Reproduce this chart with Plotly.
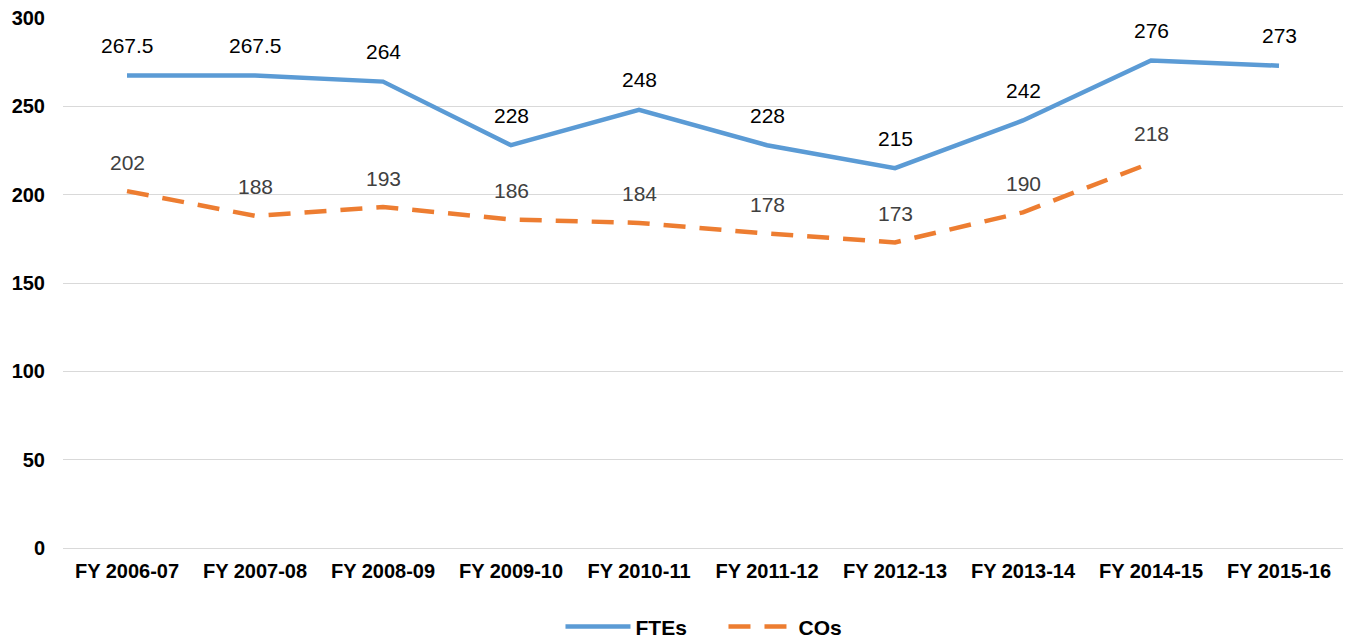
import plotly.graph_objects as go

categories = ["FY 2006-07", "FY 2007-08", "FY 2008-09", "FY 2009-10", "FY 2010-11",
              "FY 2011-12", "FY 2012-13", "FY 2013-14", "FY 2014-15", "FY 2015-16"]
ftes = [267.5, 267.5, 264, 228, 248, 228, 215, 242, 276, 273]
cos = [202, 188, 193, 186, 184, 178, 173, 190, 218, None]
y_ticks = [0, 50, 100, 150, 200, 250, 300]

FONT = "Liberation Sans, Arial, sans-serif"

fig = go.Figure()
fig.add_trace(go.Scatter(x=categories, y=ftes, mode="lines", name="FTEs",
                         line=dict(color="#5b9bd5", width=4.5)))
fig.add_trace(go.Scatter(x=categories, y=cos, mode="lines", name="COs",
                         line=dict(color="#ed7d31", width=4.5, dash="22px,14px")))

annotations = []
for c, v in zip(categories, ftes):
    annotations.append(dict(x=c, y=v, text=f"{v:g}", showarrow=False, yshift=30,
                            font=dict(family=FONT, size=21, color="#000000")))
for c, v in zip(categories, cos):
    if v is None:
        continue
    annotations.append(dict(x=c, y=v, text=f"{v:g}", showarrow=False, yshift=29,
                            font=dict(family=FONT, size=21, color="#404040")))

fig.update_layout(
    width=1347, height=639,
    margin=dict(l=63, r=4, t=18, b=91, autoexpand=False),
    paper_bgcolor="white", plot_bgcolor="white",
    font=dict(family=FONT, size=21, color="#000000"),
    annotations=annotations,
    showlegend=True,
    legend=dict(orientation="h", x=0.516, xanchor="center",
                yref="container", y=0.019, yanchor="middle",
                entrywidth=83, itemwidth=65,
                font=dict(family=FONT, size=21, color="#000000", weight="bold")),
    xaxis=dict(type="category", range=[-0.5, 9.5], showgrid=False, showline=False,
               ticks="", ticklabelstandoff=9,
               tickfont=dict(family=FONT, size=20, color="#000000", weight="bold")),
    yaxis=dict(range=[0, 300], tickvals=y_ticks, showgrid=True, gridcolor="#d9d9d9",
               gridwidth=1, zeroline=True, zerolinecolor="#d9d9d9", zerolinewidth=1,
               showline=False, ticks="", ticklabelstandoff=17,
               tickfont=dict(family=FONT, size=20, color="#000000", weight="bold")),
)

post = """
document.documentElement.style.margin='0';
document.body.style.margin='0';
document.body.style.overflow='hidden';
var gd = document.getElementById('{plot_id}');
gd.style.width='1347px'; gd.style.height='639px';
Plotly.relayout(gd, {width:1347, height:639});
"""

fig.write_html("out.html", post_script=post, config={"displayModeBar": False})
